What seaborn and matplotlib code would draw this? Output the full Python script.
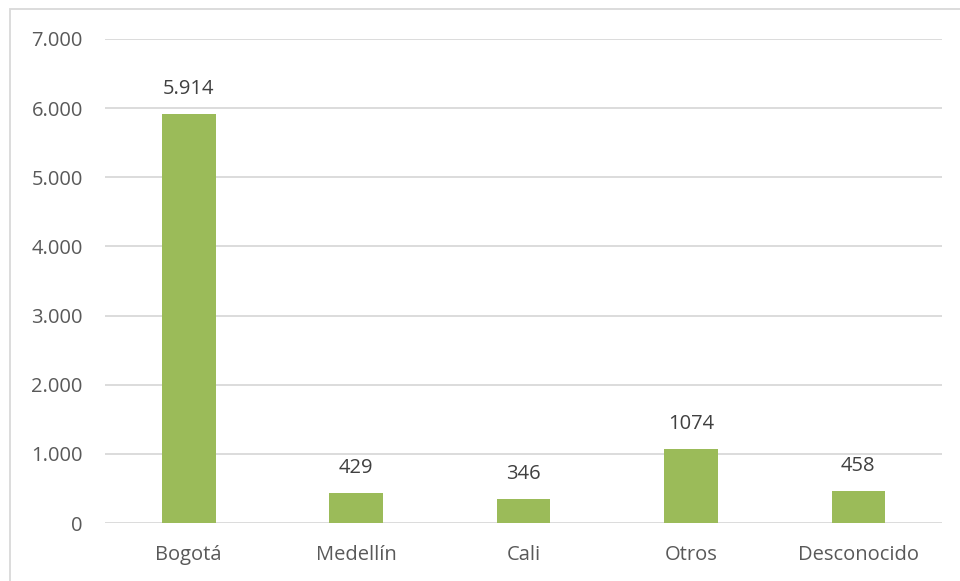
import matplotlib
matplotlib.use("Agg")
import matplotlib.pyplot as plt
import seaborn as sns
import pandas as pd
from matplotlib.patches import Rectangle
from matplotlib.ticker import FuncFormatter

# data
ciudades = ["Bogotá", "Medellín", "Cali", "Otros", "Desconocido"]
casos = [5914, 429, 346, 1074, 458]
etiquetas = ["5.914", "429", "346", "1074", "458"]

df = pd.DataFrame({"ciudad": ciudades, "casos": casos})

sns.set_style("white")
plt.rcParams["font.family"] = ["Open Sans", "DejaVu Sans"]

fig = plt.figure(figsize=(9.6, 5.81), dpi=100)
ax = fig.add_axes([0.1094, 0.0998, 0.8719, 0.8331])

sns.barplot(data=df, x="ciudad", y="casos", color="#9BBB59", width=0.32,
            saturation=1, linewidth=0, ax=ax)

ax.set_ylim(0, 7000)
ax.set_yticks(range(0, 7001, 1000))
ax.yaxis.set_major_formatter(FuncFormatter(lambda v, p: f"{int(v):,}".replace(",", ".")))
ax.grid(axis="y", color="#D9D9D9", linewidth=1.3)
ax.set_axisbelow(True)
for s in ax.spines.values():
    s.set_visible(False)
ax.tick_params(axis="both", length=0, labelsize=14.5, labelcolor="#595959")
ax.tick_params(axis="y", pad=16)
ax.tick_params(axis="x", pad=16)
ax.set_xlabel("")
ax.set_ylabel("")

#value labels above each bar
for i, (v, t) in enumerate(zip(casos, etiquetas)):
    ax.annotate(t, (i, v), xytext=(0, 18), textcoords="offset points",
                ha="center", va="center", fontsize=14.5, color="#404040")

# chart area border
fig.patches.append(Rectangle((10 / 960, -0.2), 1.5, 1 - 9 / 581 + 0.2,
                             transform=fig.transFigure, fill=False,
                             edgecolor="#D9D9D9", linewidth=1.3))

fig.savefig("out.png", dpi=100)
